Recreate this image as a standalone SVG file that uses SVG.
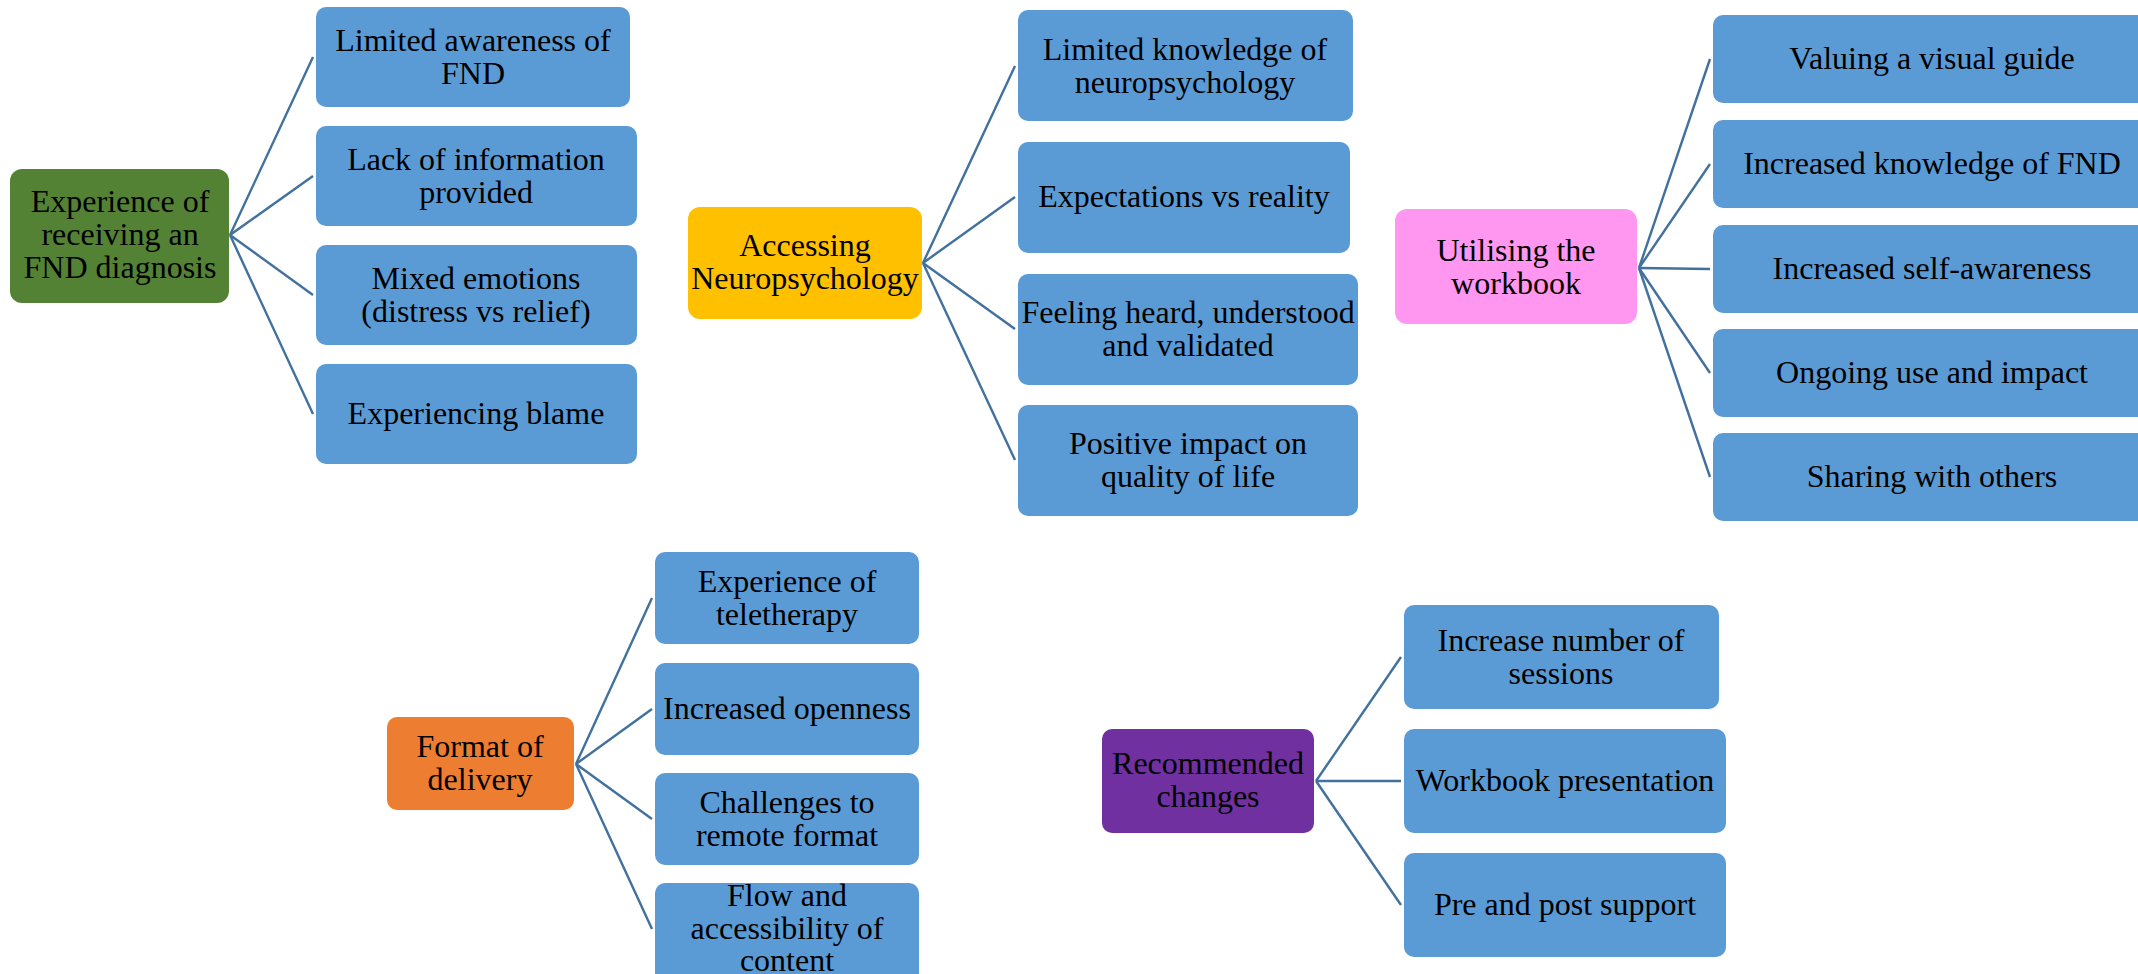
<svg xmlns="http://www.w3.org/2000/svg" width="2138" height="974" viewBox="0 0 2138 974">
<style>
text{font-family:"Liberation Serif","Times New Roman",serif;font-size:32px;fill:#000;text-anchor:middle}
.leaf{fill:#5B9BD5}
.conn line{stroke:#41719C;stroke-width:2.4;fill:none}
</style>
<rect width="2138" height="974" fill="#fff"/>
<g class="conn" id="connectors">
<line x1="230" y1="235" x2="313" y2="57"/>
<line x1="230" y1="235" x2="313" y2="176"/>
<line x1="230" y1="235" x2="313" y2="295"/>
<line x1="230" y1="235" x2="313" y2="414"/>
<line x1="923" y1="263" x2="1015" y2="66"/>
<line x1="923" y1="263" x2="1015" y2="197"/>
<line x1="923" y1="263" x2="1015" y2="329"/>
<line x1="923" y1="263" x2="1015" y2="460"/>
<line x1="1639" y1="268" x2="1710" y2="59"/>
<line x1="1639" y1="268" x2="1710" y2="164"/>
<line x1="1639" y1="268" x2="1710" y2="269"/>
<line x1="1639" y1="268" x2="1710" y2="373"/>
<line x1="1639" y1="268" x2="1710" y2="477"/>
<line x1="576" y1="764" x2="652" y2="598"/>
<line x1="576" y1="764" x2="652" y2="709"/>
<line x1="576" y1="764" x2="652" y2="819"/>
<line x1="576" y1="764" x2="652" y2="929"/>
<line x1="1316" y1="781" x2="1401" y2="657"/>
<line x1="1316" y1="781" x2="1401" y2="781"/>
<line x1="1316" y1="781" x2="1401" y2="905"/>
</g>
<g id="n-fnd-diagnosis"><rect x="10" y="169" width="219" height="134" rx="12" fill="#548235"/><text x="120"><tspan x="120" y="212">Experience of</tspan><tspan x="120" y="245">receiving an</tspan><tspan x="120" y="278">FND diagnosis</tspan></text></g>
<g id="n-limited-awareness"><rect class="leaf" x="316" y="7" width="314" height="100" rx="10"/><text><tspan x="473" y="51">Limited awareness of</tspan><tspan x="473" y="84">FND</tspan></text></g>
<g id="n-lack-info"><rect class="leaf" x="316" y="126" width="321" height="100" rx="10"/><text><tspan x="476" y="170">Lack of information</tspan><tspan x="476" y="203">provided</tspan></text></g>
<g id="n-mixed-emotions"><rect class="leaf" x="316" y="245" width="321" height="100" rx="10"/><text><tspan x="476" y="289">Mixed emotions</tspan><tspan x="476" y="322">(distress vs relief)</tspan></text></g>
<g id="n-blame"><rect class="leaf" x="316" y="364" width="321" height="100" rx="10"/><text x="476" y="424">Experiencing blame</text></g>

<g id="n-accessing"><rect x="688" y="207" width="234" height="112" rx="12" fill="#FFC000"/><text><tspan x="805" y="256">Accessing</tspan><tspan x="805" y="289">Neuropsychology</tspan></text></g>
<g id="n-limited-knowledge"><rect class="leaf" x="1018" y="10" width="335" height="111" rx="10"/><text><tspan x="1185" y="60">Limited knowledge of</tspan><tspan x="1185" y="93">neuropsychology</tspan></text></g>
<g id="n-expectations"><rect class="leaf" x="1018" y="142" width="332" height="111" rx="10"/><text x="1184" y="207">Expectations vs reality</text></g>
<g id="n-feeling-heard"><rect class="leaf" x="1018" y="274" width="340" height="111" rx="10"/><text><tspan x="1188" y="323">Feeling heard, understood</tspan><tspan x="1188" y="356">and validated</tspan></text></g>
<g id="n-positive-impact"><rect class="leaf" x="1018" y="405" width="340" height="111" rx="10"/><text><tspan x="1188" y="454">Positive impact on</tspan><tspan x="1188" y="487">quality of life</tspan></text></g>

<g id="n-utilising"><rect x="1395" y="209" width="242" height="115" rx="12" fill="#FF97F0"/><text><tspan x="1516" y="261">Utilising the</tspan><tspan x="1516" y="294">workbook</tspan></text></g>
<g id="n-visual-guide"><rect class="leaf" x="1713" y="15" width="438" height="88" rx="10"/><text x="1932" y="69">Valuing a visual guide</text></g>
<g id="n-knowledge-fnd"><rect class="leaf" x="1713" y="120" width="438" height="88" rx="10"/><text x="1932" y="174">Increased knowledge of FND</text></g>
<g id="n-self-awareness"><rect class="leaf" x="1713" y="225" width="438" height="88" rx="10"/><text x="1932" y="279">Increased self-awareness</text></g>
<g id="n-ongoing-use"><rect class="leaf" x="1713" y="329" width="438" height="88" rx="10"/><text x="1932" y="383">Ongoing use and impact</text></g>
<g id="n-sharing"><rect class="leaf" x="1713" y="433" width="438" height="88" rx="10"/><text x="1932" y="487">Sharing with others</text></g>

<g id="n-format"><rect x="387" y="717" width="187" height="93" rx="10" fill="#ED7D31"/><text><tspan x="480" y="757">Format of</tspan><tspan x="480" y="790">delivery</tspan></text></g>
<g id="n-teletherapy"><rect class="leaf" x="655" y="552" width="264" height="92" rx="10"/><text><tspan x="787" y="592">Experience of</tspan><tspan x="787" y="625">teletherapy</tspan></text></g>
<g id="n-openness"><rect class="leaf" x="655" y="663" width="264" height="92" rx="10"/><text x="787" y="719">Increased openness</text></g>
<g id="n-challenges"><rect class="leaf" x="655" y="773" width="264" height="92" rx="10"/><text><tspan x="787" y="813">Challenges to</tspan><tspan x="787" y="846">remote format</tspan></text></g>
<g id="n-flow"><rect class="leaf" x="655" y="883" width="264" height="100" rx="10"/><text><tspan x="787" y="906">Flow and</tspan><tspan x="787" y="939">accessibility of</tspan><tspan x="787" y="971">content</tspan></text></g>

<g id="n-recommended"><rect x="1102" y="729" width="212" height="104" rx="10" fill="#7030A0"/><text><tspan x="1208" y="774">Recommended</tspan><tspan x="1208" y="807">changes</tspan></text></g>
<g id="n-sessions"><rect class="leaf" x="1404" y="605" width="315" height="104" rx="10"/><text><tspan x="1561" y="651">Increase number of</tspan><tspan x="1561" y="684">sessions</tspan></text></g>
<g id="n-presentation"><rect class="leaf" x="1404" y="729" width="322" height="104" rx="10"/><text x="1565" y="791">Workbook presentation</text></g>
<g id="n-pre-post"><rect class="leaf" x="1404" y="853" width="322" height="104" rx="10"/><text x="1565" y="915">Pre and post support</text></g>
</svg>
